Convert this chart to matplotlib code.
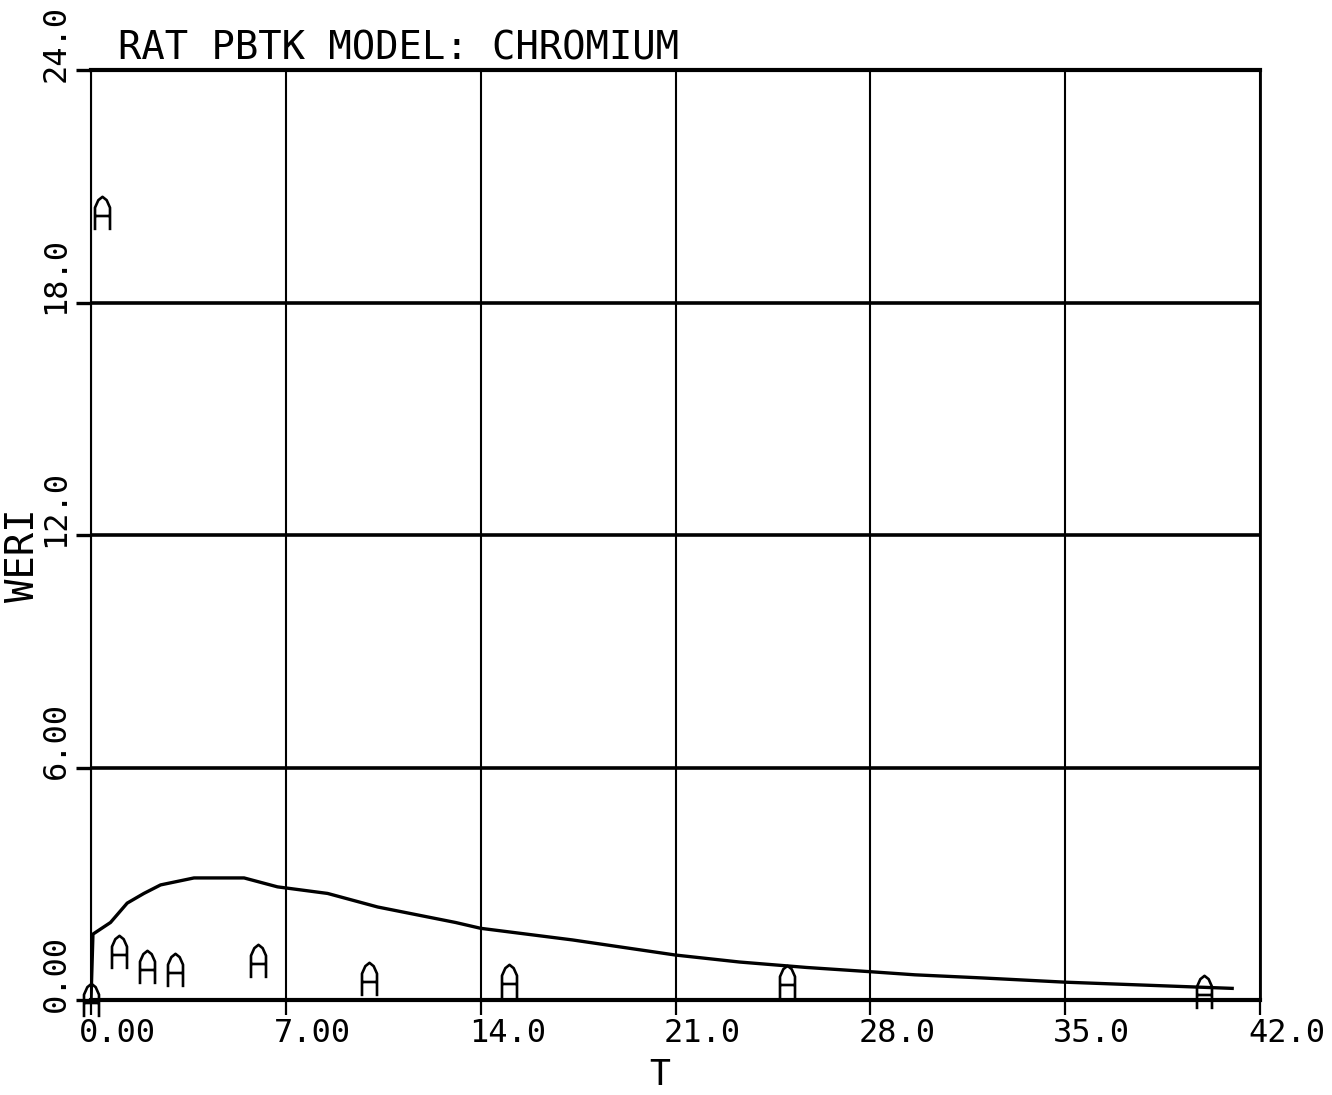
import matplotlib
matplotlib.use("Agg")
import matplotlib.pyplot as plt
from matplotlib.path import Path
from matplotlib.markers import MarkerStyle
from matplotlib.transforms import ScaledTranslation

# Observed data (time, WERI)
t_obs = [0.0, 0.4, 1.0, 2.0, 3.0, 6.0, 10.0, 15.0, 25.0, 40.0]
weri_obs = [0.0, 20.3, 1.25, 0.85, 0.77, 1.0, 0.55, 0.5, 0.47, 0.2]

# Model simulation curve
t_model = [0.0, 0.07, 0.7, 1.3, 1.9, 2.5, 3.7, 5.5, 6.7, 8.5, 10.3, 13.1, 14.0,
           17.3, 21.0, 23.3, 25.7, 28.0, 29.6, 32.0, 35.0, 38.0, 41.0]
weri_model = [0.0, 1.7, 2.0, 2.5, 2.75, 2.97, 3.15, 3.15, 2.92, 2.75, 2.4, 2.0, 1.85,
              1.55, 1.16, 0.98, 0.84, 0.73, 0.65, 0.57, 0.46, 0.38, 0.3]

x_ticks = [0, 7, 14, 21, 28, 35, 42]
x_tick_labels = ["0.00", "7.00", "14.0", "21.0", "28.0", "35.0", "42.0"]
y_ticks = [0, 6, 12, 18, 24]
y_tick_labels = ["0.00", "6.00", "12.0", "18.0", "24.0"]

title = "RAT PBTK MODEL: CHROMIUM"
x_label = "T"
y_label = "WERI"

FONT = "DejaVu Sans Mono"

# Plotter-style "A" symbol used as the data marker
a_verts = [(-0.45, -1.0), (-0.45, 0.35), (-0.25, 0.8), (0.0, 1.0), (0.25, 0.8),
           (0.45, 0.35), (0.45, -1.0),
           (-0.45, -0.15), (0.45, -0.15)]
a_codes = [Path.MOVETO] + [Path.LINETO] * 6 + [Path.MOVETO, Path.LINETO]
a_marker = MarkerStyle(Path(a_verts, a_codes))

fig = plt.figure(figsize=(13.32, 10.95), dpi=100)
fig.patch.set_facecolor("white")
ax = fig.add_axes([91 / 1332, 95 / 1095, 1169 / 1332, 930 / 1095])

ax.plot(t_model, weri_model, color="black", lw=2.4, solid_joinstyle="round", zorder=3)
ax.plot(t_obs, weri_obs, linestyle="none", marker=a_marker, markersize=24,
        mfc="none", mec="black", mew=1.9, clip_on=False, zorder=4)

ax.set_xlim(0, 42)
ax.set_ylim(0, 24)
ax.set_xticks(x_ticks)
ax.set_yticks(y_ticks)
ax.set_xticklabels(x_tick_labels, fontfamily=FONT, fontsize=23)
ax.set_yticklabels(y_tick_labels, fontfamily=FONT, fontsize=23, rotation=90, va="center")

ax.xaxis.grid(True, color="black", lw=1.5)
ax.yaxis.grid(True, color="black", lw=2.6)
ax.set_axisbelow(True)

ax.tick_params(axis="x", direction="out", length=11, width=1.6, pad=2, colors="black")
ax.tick_params(axis="y", direction="out", length=11, width=2.4, pad=3, colors="black")

for lbl in ax.get_xticklabels():
    lbl.set_horizontalalignment("left")
    lbl.set_transform(lbl.get_transform() + ScaledTranslation(-12 / 100, 0, fig.dpi_scale_trans))
for lbl in ax.get_yticklabels():
    lbl.set_transform(lbl.get_transform() + ScaledTranslation(0, 27 / 100, fig.dpi_scale_trans))

ax.spines["top"].set_linewidth(3.0)
ax.spines["bottom"].set_linewidth(3.0)
ax.spines["right"].set_linewidth(2.0)
ax.spines["left"].set_linewidth(1.5)

ax.set_xlabel(x_label, fontfamily=FONT, fontsize=25)
ax.xaxis.set_label_coords((660 - 91) / 1169, -58 / 930)
ax.set_ylabel(y_label, fontfamily=FONT, fontsize=28)
ax.yaxis.set_label_coords(-49 / 1169, 0.4785)

fig.text(118 / 1332, (1095 - 60) / 1095, title, fontfamily=FONT, fontsize=28,
         ha="left", va="baseline")

fig.savefig("out.png", dpi=100, facecolor="white")
